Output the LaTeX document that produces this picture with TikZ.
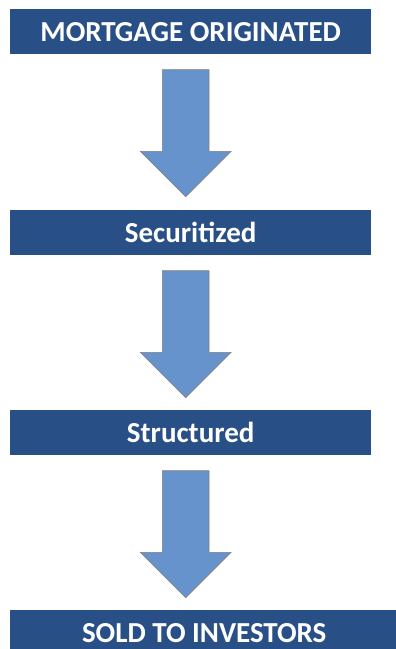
\documentclass[tikz,border=0pt]{standalone}
\usepackage{fontspec}
\setmainfont{Carlito}
\usetikzlibrary{shapes.arrows,calc}
\definecolor{boxblue}{RGB}{41,80,134}
\definecolor{arrowblue}{RGB}{103,147,204}
\tikzset{
  stage/.style={fill=boxblue, text=white, font=\bfseries\fontsize{29}{33}\selectfont,
    minimum width=361pt, minimum height=45pt, inner sep=0pt, anchor=north west},
  downarrow/.style={single arrow, shape border rotate=270, fill=arrowblue, draw=gray,
    line width=0.6pt, minimum height=127pt, single arrow head extend=22pt,
    inner xsep=23pt, inner ysep=0pt, anchor=tail}
}
\begin{document}
\begin{tikzpicture}[x=1pt,y=1pt]
\useasboundingbox (0,0) rectangle (396,-649);
% stages
\node[stage] (orig) at (10,-9) {MORTGAGE ORIGINATED};
\node[stage] (sec) at (10,-210) {Securitized};
\node[stage] (struct) at (10,-410) {Structured};
\node[stage, minimum width=388pt] (sold) at (10,-610) {SOLD TO INVESTORS};
% arrows between stages
\node[downarrow] (a1) at ($(orig.south)+(-5,-15)$) {};
\node[downarrow] (a2) at ($(sec.south)+(-5,-15)$) {};
\node[downarrow] (a3) at ($(struct.south)+(-5,-15)$) {};
\end{tikzpicture}
\end{document}
